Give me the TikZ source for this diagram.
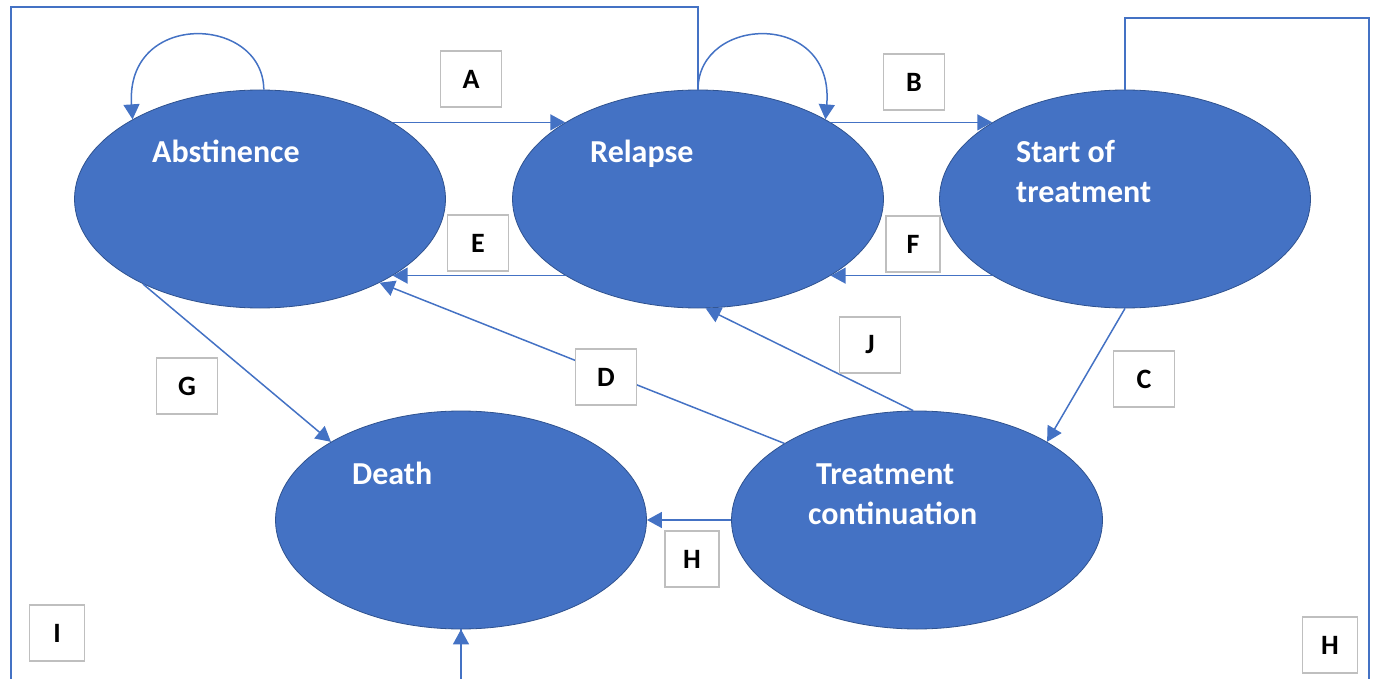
\documentclass[tikz,border=0pt]{standalone}
\usepackage{fontspec}
\setmainfont{Carlito}
\usetikzlibrary{shapes.geometric,arrows.meta}
\definecolor{ofblue}{HTML}{4472C4}
\definecolor{ofdark}{HTML}{2F528F}
\definecolor{boxgray}{HTML}{BFBFBF}
\begin{document}
\begin{tikzpicture}[x=1pt,y=-1pt,
 state/.style={ellipse, fill=ofblue, draw=ofdark, line width=0.8pt, minimum width=371pt, minimum height=218pt, inner sep=0pt},
 stxt/.style={text=white, font=\fontsize{32}{39}\selectfont\bfseries, anchor=base west, inner sep=0pt},
 lbl/.style={draw=boxgray, line width=1.5pt, fill=white, font=\fontsize{28}{30}\selectfont\bfseries, minimum width=61pt, minimum height=56pt, inner sep=0pt},
 conn/.style={draw=ofblue, line width=1.5pt},
 arr/.style={conn, -{Triangle[length=15pt,width=16pt]}},
]
\useasboundingbox (0,0) rectangle (1376,679);
\clip (0,0) rectangle (1376,679);

% states
\node[state] (ab) at (260,199) {};
\node[state] (rl) at (698,199) {};
\node[state] (st) at (1125,199) {};
\node[state] (de) at (461,520) {};
\node[state] (tc) at (917,520) {};

% state texts
\node[stxt] (abt) at (152,163) {Abstinence};
\node[stxt] (rlt) at (590,163) {Relapse};
\node[stxt] (stt1) at (1016,163) {Start of};
\node[stxt] (stt2) at (1016,203) {treatment};
\node[stxt] (det) at (352,484) {Death};
\node[stxt] (tct1) at (816,484) {Treatment};
\node[stxt] (tct2) at (808,524) {continuation};

% frame connectors
\draw[arr] (rl.north) |- (11,7) -- (11,720) -| (de.south);
\draw[conn] (st.north) |- (1369,18) -- (1369,720) -| (de.south);

% self loops
\draw[arr] (ab.88) .. controls (263,15) and (125,10) .. (ab.148);
\draw[arr] (rl.north) .. controls (698,15) and (835,10) .. (rl.32);

% transitions
\draw[arr] (ab.30) -- (rl.150);
\draw[arr] (rl.30) -- (st.150);
\draw[arr] (rl.210) -- (ab.330);
\draw[arr] (st.210) -- (rl.330);
\draw[arr] (ab.216) -- (de.149);
\draw[arr] (tc.150) -- (ab.325);
\draw[arr] (tc.92) -- (rl.274);
\draw[arr] (st.270) -- (tc.31);
\draw[arr] (tc.180) -- (de.0);

% labels
\node[lbl] (la) at (471,79) {A};
\node[lbl] (lb) at (914,82) {B};
\node[lbl] (le) at (478,243) {E};
\node[lbl, minimum width=54pt] (lf) at (913,244) {F};
\node[lbl] (lg) at (187,386) {G};
\node[lbl] (ld) at (606,377) {D};
\node[lbl] (lj) at (870,345) {J};
\node[lbl] (lc) at (1144,379) {C};
\node[lbl, minimum width=54pt] (lh) at (692,559) {H};
\node[lbl, minimum width=55pt] (li) at (57,633) {I};
\node[lbl, minimum width=55pt] (lh2) at (1330,645) {H};
\end{tikzpicture}
\end{document}
